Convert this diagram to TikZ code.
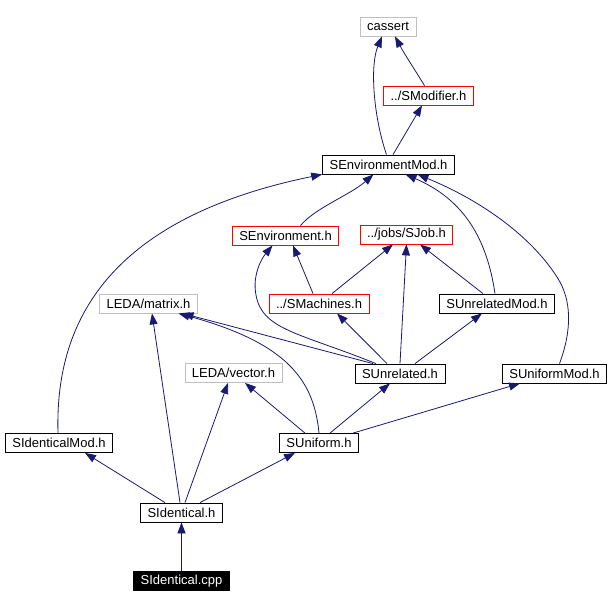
\documentclass[tikz,border=0pt]{standalone}
\usepackage{fontspec}
\setmainfont{Liberation Sans}
\usetikzlibrary{arrows.meta}
\definecolor{edgeblue}{RGB}{25,25,112}
\definecolor{boxgray}{RGB}{191,191,191}

\begin{document}
\begin{tikzpicture}[x=1pt, y=-1pt,
	hdr/.style={draw, line width=0.8pt, font=\fontsize{13}{15}\selectfont, inner xsep=7pt, inner ysep=0pt, minimum height=19pt},
	sys/.style={hdr, draw=boxgray},
	missing/.style={hdr, draw=red},
	dep/.style={edgeblue, line width=0.8pt, -{Triangle[length=11pt,width=8pt]}}]
	\useasboundingbox (0,0) rectangle (610,609);

	\node[sys] (cassert) at (388,26.5) {cassert};
	\node[missing] (smodifier) at (428.5,95.5) {../SModifier.h};
	\node[hdr] (senvmod) at (388.5,164.5) {SEnvironmentMod.h};
	\node[missing] (senv) at (285.5,235.5) {SEnvironment.h};
	\node[missing] (sjob) at (406.5,234.5) {../jobs/SJob.h};
	\node[missing] (smachines) at (319,303.5) {../SMachines.h};
	\node[hdr] (sunrelmod) at (497,303.5) {SUnrelatedMod.h};
	\node[sys] (matrix) at (148.5,303.5) {LEDA/matrix.h};
	\node[hdr] (sunrelated) at (400,373.5) {SUnrelated.h};
	\node[hdr] (suniformmod) at (554.5,373.5) {SUniformMod.h};
	\node[sys] (vector) at (233.5,373) {LEDA/vector.h};
	\node[hdr] (sidentmod) at (59,443) {SIdenticalMod.h};
	\node[hdr] (suniform) at (319,443) {SUniform.h};
	\node[hdr] (sidentical) at (181.5,512.5) {SIdentical.h};
	\node[hdr, fill=black, text=white] (cpp) at (181.5,581) {SIdentical.cpp};

	% straight includes
	\foreach \s/\ds/\t/\dt in {senvmod/4.5/smodifier/-6.5, smachines/-6/senv/7.5,
		smachines/13/sjob/-13.5, sunrelated/0/sjob/0, sunrelmod/-14/sjob/13.5,
		sunrelated/-13/smachines/18, sunrelated/15/sunrelmod/-15, sunrelated/-27/matrix/34,
		suniform/-14/vector/11.5, suniform/11/sunrelated/-10, suniform/34/suniformmod/-34.5,
		sidentical/-16.5/sidentmod/26, sidentical/-1.5/matrix/3.5, sidentical/3.5/vector/-5.5,
		sidentical/18.5/suniform/-24, cpp/0/sidentical/0}
		\draw[dep] ([xshift=\ds]\s.north) -- ([xshift=\dt]\t.south);

	% bent ones
	\draw[dep] ([xshift=-4]smodifier.north) .. controls (415,70) and (405,55) .. ([xshift=7]cassert.south);
	\draw[dep] ([xshift=-2]senvmod.north) .. controls (373,115) and (370,65) .. ([xshift=-6]cassert.south);
	\draw[dep] ([xshift=15]senv.north) .. controls (315,208) and (350,195) .. ([xshift=-15]senvmod.south);
	\draw[dep] ([xshift=-2]sunrelmod.north) .. controls (487,240) and (465,200) .. ([xshift=17]senvmod.south);
	\draw[dep] ([xshift=5]suniformmod.north) .. controls (572,330) and (572,300) .. (557,277)
		.. controls (530,235) and (480,200) .. ([xshift=29]senvmod.south);
	\draw[dep] ([xshift=-1]sidentmod.north) .. controls (55,330) and (100,220) .. (senvmod.south west);
	\draw[dep] ([xshift=-24]sunrelated.north) .. controls (300,333) and (262,330) .. (256,295)
		.. controls (252,275) and (262,258) .. ([xshift=-13]senv.south);
	\draw[dep] (suniform.north) .. controls (314,380) and (287,343) .. ([xshift=30]matrix.south);
\end{tikzpicture}
\end{document}
